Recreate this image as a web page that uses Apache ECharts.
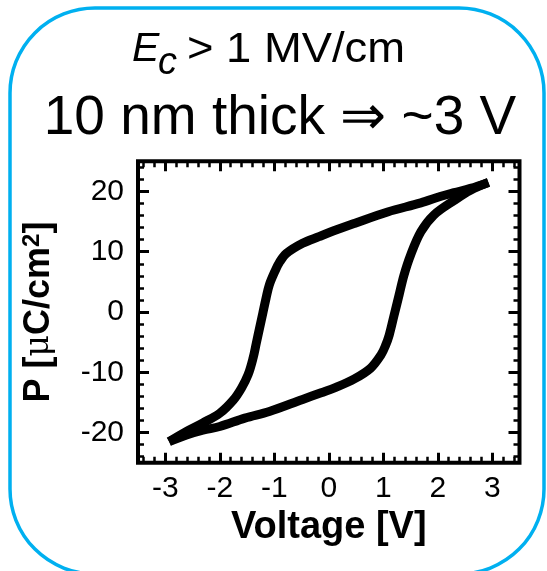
<!DOCTYPE html>
<html>
<head>
<meta charset="utf-8">
<script src="https://cdn.jsdelivr.net/npm/echarts@6/dist/echarts.min.js"></script>
<style>
html,body{margin:0;padding:0;background:#fff;}
#chart{width:547px;height:571px;}
</style>
</head>
<body>
<div id="chart"></div>
<script>
// ---- data ----
// upper branch: sweeping from +V down to -V
const upperV = [2.93, 2.6, 2.3, 2.06, 1.69, 1.08, 0.47, 0.13, -0.18, -0.48, -0.78, -0.9, -0.99, -1.09, -1.15, -1.21, -1.27, -1.33, -1.39, -1.48, -1.6, -1.75, -2.0, -2.31, -2.61, -2.93];
const upperP = [21.5, 20.5, 19.8, 19.2, 18.1, 16.6, 14.7, 13.6, 12.5, 11.4, 9.7, 8.3, 6.7, 4.5, 2.3, -0.2, -2.7, -5.2, -7.7, -10.4, -12.6, -14.6, -16.8, -18.4, -19.8, -21.5];
// lower branch: sweeping from -V up to +V
const lowerV = [-2.93, -2.61, -2.31, -2.0, -1.54, -1.09, -0.48, -0.14, 0.13, 0.47, 0.77, 0.96, 1.04, 1.11, 1.2, 1.29, 1.38, 1.5, 1.69, 1.93, 2.3, 2.6, 2.93];
const lowerP = [-21.5, -20.4, -19.6, -19.0, -17.6, -16.5, -14.5, -13.4, -12.5, -11.1, -9.3, -7.1, -5.6, -3.8, -0.5, 2.8, 6.1, 9.4, 13.3, 16.1, 18.5, 20.2, 21.5];

const xMajorTicks = [-3, -2, -1, 0, 1, 2, 3];
const xMinorTicks = [-3.4, -3.2, -2.8, -2.6, -2.4, -2.2, -1.8, -1.6, -1.4, -1.2, -0.8, -0.6, -0.4, -0.2, 0.2, 0.4, 0.6, 0.8, 1.2, 1.4, 1.6, 1.8, 2.2, 2.4, 2.6, 2.8, 3.2, 3.4];
const yMajorTicks = [-20, -10, 0, 10, 20];
const yMinorTicks = [-24, -22, -18, -16, -14, -12, -8, -6, -4, -2, 2, 4, 6, 8, 12, 14, 16, 18, 22, 24];

const xTitle = 'Voltage [V]';
const titleLine1 = ['E', 'c', '> 1 MV/cm'];
const titleLine2 = '10 nm thick \u21D2 ~3 V';

// ---- chart ----
const FONT = '"Liberation Sans", Arial, sans-serif';
const chart = echarts.init(document.getElementById('chart'), null, {renderer: 'canvas'});

function pairs(xs, ys) { return xs.map((x, i) => [x, ys[i]]); }

function tickAxis(kind, position, values, len, width, withLabels) {
  const ax = {
    type: 'value',
    position: position,
    min: kind === 'x' ? -3.5 : -25,
    max: kind === 'x' ? 3.5 : 25,
    axisLine: {show: false, onZero: false},
    splitLine: {show: false},
    axisTick: {show: true, inside: true, length: len, customValues: values,
               lineStyle: {color: '#000', width: width}},
    axisLabel: {show: false}
  };
  if (withLabels) {
    ax.axisLabel = {show: true, customValues: values, color: '#000', fontFamily: FONT, fontSize: 30};
    if (kind === 'x') { ax.axisLabel.margin = 11; }
    else { ax.axisLabel.margin = 14; ax.axisLabel.padding = [0, 0, 6, 0]; }
  }
  return ax;
}

const xAxes = [
  tickAxis('x', 'bottom', xMajorTicks, 10, 3, true),
  tickAxis('x', 'bottom', xMinorTicks, 6, 2.5, false),
  tickAxis('x', 'top', xMajorTicks, 10, 3, false),
  tickAxis('x', 'top', xMinorTicks, 6, 2.5, false)
];
xAxes[0].name = xTitle;
xAxes[0].nameLocation = 'middle';
xAxes[0].nameGap = 42;
xAxes[0].nameTextStyle = {color: '#000', fontFamily: FONT, fontSize: 38, fontWeight: 'bold'};

const yAxes = [
  tickAxis('y', 'left', yMajorTicks, 11, 3, true),
  tickAxis('y', 'left', yMinorTicks, 6, 2.5, false),
  tickAxis('y', 'right', yMajorTicks, 11, 3, false),
  tickAxis('y', 'right', yMinorTicks, 6, 2.5, false)
];
yAxes[0].name = '{b|P [}{mu|\u03BC}{b|C/cm}{sup|2}{b|]}';
yAxes[0].nameLocation = 'middle';
yAxes[0].nameRotate = 90;
yAxes[0].nameGap = 80;
yAxes[0].nameTextStyle = {
  color: '#000', fontFamily: FONT, fontSize: 36, fontWeight: 'bold',
  rich: {
    b: {fontFamily: FONT, fontSize: 36, fontWeight: 'bold', color: '#000'},
    mu: {fontFamily: '"DejaVu Serif", serif', fontSize: 33, fontWeight: 'normal', color: '#000'},
    sup: {fontFamily: FONT, fontSize: 24, fontWeight: 'bold', color: '#000', verticalAlign: 'top', padding: [0, 0, 14, 0]}
  }
};

const option = {
  backgroundColor: '#fff',
  animation: false,
  grid: {left: 138, right: 27.5, top: 161.3, bottom: 108.3, show: true,
         borderColor: '#000', borderWidth: 4, backgroundColor: 'transparent'},
  xAxis: xAxes,
  yAxis: yAxes,
  series: [
    {type: 'line', name: 'upper', data: pairs(upperV, upperP), xAxisIndex: 0, yAxisIndex: 0,
     showSymbol: false, smooth: 0.35, lineStyle: {color: '#000', width: 9, cap: 'butt', join: 'round'}},
    {type: 'line', name: 'lower', data: pairs(lowerV, lowerP), xAxisIndex: 0, yAxisIndex: 0,
     showSymbol: false, smooth: 0.35, lineStyle: {color: '#000', width: 9, cap: 'butt', join: 'round'}}
  ],
  graphic: [
    {type: 'rect', z: -10, shape: {x: 10, y: 8, width: 534, height: 566, r: 85},
     style: {fill: 'transparent', stroke: '#00B0F0', lineWidth: 3.5}},
    {type: 'text', x: 132, y: 50, style: {text: titleLine1[0], fontFamily: FONT, fontSize: 41, fontStyle: 'italic', fill: '#000', align: 'left', verticalAlign: 'middle'}},
    {type: 'text', x: 158, y: 63, style: {text: titleLine1[1], fontFamily: FONT, fontSize: 38, fontStyle: 'italic', fill: '#000', align: 'left', verticalAlign: 'middle'}},
    {type: 'text', x: 187, y: 50, scaleX: 1.08, originX: 0, style: {text: titleLine1[2], fontFamily: FONT, fontSize: 42, fill: '#000', align: 'left', verticalAlign: 'middle'}},
    {type: 'text', x: 280, y: 119, style: {text: titleLine2, fontFamily: FONT, fontSize: 55, fill: '#000', align: 'center', verticalAlign: 'middle'}}
  ]
};
chart.setOption(option);
</script>
</body>
</html>
